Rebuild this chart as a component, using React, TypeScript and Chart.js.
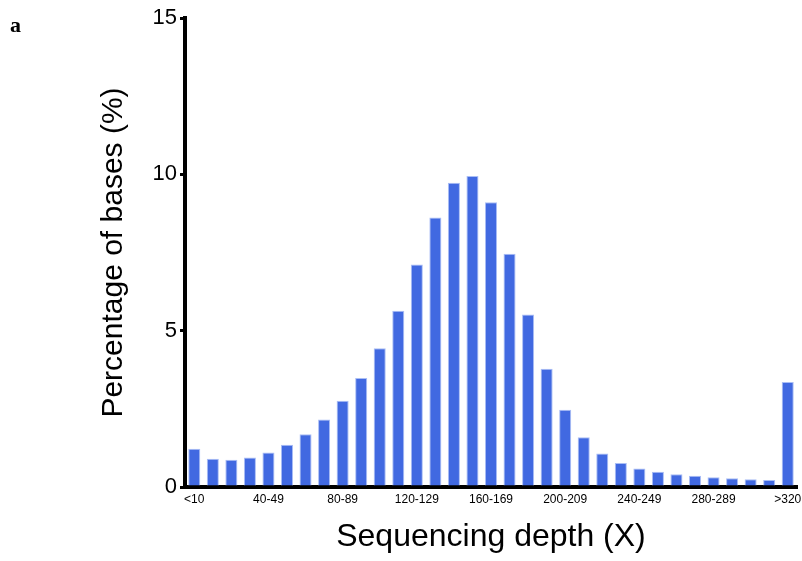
import React, { useEffect, useRef } from "react";
import { Chart, registerables } from "chart.js";

Chart.register(...registerables);

const categories: string[] = [
  "<10", "10-19", "20-29", "30-39", "40-49", "50-59", "60-69", "70-79",
  "80-89", "90-99", "100-109", "110-119", "120-129", "130-139", "140-149",
  "150-159", "160-169", "170-179", "180-189", "190-199", "200-209",
  "210-219", "220-229", "230-239", "240-249", "250-259", "260-269",
  "270-279", "280-289", "290-299", "300-309", "310-319", ">320",
];

const percentages: number[] = [
  1.22, 0.9, 0.87, 0.94, 1.1, 1.35, 1.69, 2.16, 2.76, 3.49, 4.44, 5.64,
  7.12, 8.62, 9.73, 9.95, 9.11, 7.46, 5.52, 3.78, 2.47, 1.59, 1.07, 0.77,
  0.59, 0.49, 0.41, 0.36, 0.31, 0.28, 0.25, 0.22, 3.36,
];

const yTicks: number[] = [0, 5, 10, 15];

const FONT = "'Liberation Sans', Arial, sans-serif";

export default function App() {
  const canvasRef = useRef<HTMLCanvasElement | null>(null);

  useEffect(() => {
    if (!canvasRef.current) return;
    const chart = new Chart(canvasRef.current, {
      type: "bar",
      data: {
        labels: categories,
        datasets: [
          {
            data: percentages,
            backgroundColor: "#4169E1",
            borderColor: "rgba(170,190,245,1)",
            borderWidth: 1,
            barPercentage: 0.65,
            categoryPercentage: 1,
          },
        ],
      },
      options: {
        responsive: false,
        animation: false,
        layout: { padding: { top: 18, right: 5, left: 0, bottom: 0 } },
        plugins: { legend: { display: false }, tooltip: { enabled: false } },
        scales: {
          x: {
            grid: { display: false },
            border: { display: true, color: "#000", width: 4 },
            ticks: {
              autoSkip: false,
              maxRotation: 0,
              minRotation: 0,
              color: "#000",
              padding: -3,
              font: { family: FONT, size: 12 },
              callback: (_v: any, i: number) => (i % 4 === 0 ? categories[i] : ""),
            },
            title: {
              display: true,
              text: "Sequencing depth (X)",
              color: "#000",
              font: { family: FONT, size: 32 },
              padding: { top: 0, bottom: 5 },
            },
            afterFit: (s: any) => {
              s.height = 74;
            },
          },
          y: {
            min: 0,
            max: 15,
            afterBuildTicks: (s: any) => {
              s.ticks = yTicks.map((v) => ({ value: v }));
            },
            grid: {
              drawOnChartArea: false,
              drawTicks: true,
              tickLength: 5,
              color: "#000",
              lineWidth: 3,
            },
            border: { display: true, color: "#000", width: 4 },
            ticks: {
              color: "#000",
              padding: 3,
              font: { family: FONT, size: 22 },
            },
            title: {
              display: true,
              text: "Percentage of bases (%)",
              color: "#000",
              font: { family: FONT, size: 30 },
              padding: { top: 96, bottom: 0 },
            },
            afterFit: (s: any) => {
              s.width = 185;
            },
          },
        },
      },
    });
    return () => chart.destroy();
  }, []);

  return (
    <div style={{ position: "fixed", left: 0, top: 0, width: 802, height: 561, background: "#fff" }}>
      <div
        style={{
          position: "absolute",
          left: 10,
          top: 12,
          fontFamily: "'Liberation Serif', 'Times New Roman', serif",
          fontWeight: "bold",
          fontSize: 22,
          color: "#000",
        }}
      >
        a
      </div>
      <canvas ref={canvasRef} width={802} height={561} style={{ display: "block" }} />
    </div>
  );
}
